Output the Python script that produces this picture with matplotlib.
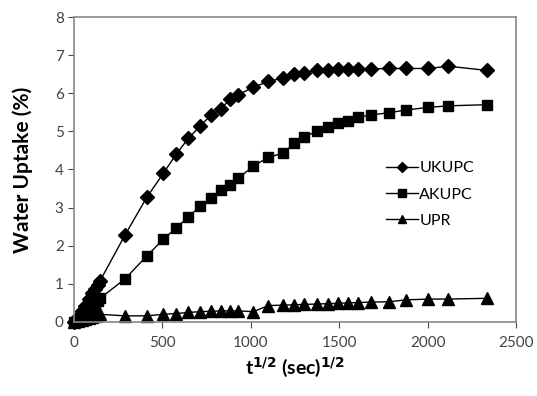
import matplotlib
matplotlib.use("Agg")
import matplotlib.pyplot as plt

# sqrt(time) values, shared by the three series
SQRT_T = [0, 24, 42, 60, 85, 104, 120, 134, 147,
          288, 411, 505, 577, 647, 713, 775, 831, 882, 929,
          1014, 1099, 1184, 1245, 1301, 1373, 1435, 1495, 1552, 1608,
          1678, 1783, 1878, 2004, 2117, 2334]

UKUPC = [0, 0.12, 0.28, 0.42, 0.6, 0.75, 0.87, 0.98, 1.08,
         2.28, 3.27, 3.9, 4.4, 4.82, 5.14, 5.43, 5.6, 5.84, 5.96,
         6.16, 6.31, 6.4, 6.5, 6.54, 6.6, 6.61, 6.63, 6.64, 6.64,
         6.64, 6.65, 6.65, 6.65, 6.71, 6.6]

AKUPC = [0, 0.05, 0.12, 0.2, 0.3, 0.4, 0.48, 0.55, 0.62,
         1.13, 1.73, 2.17, 2.46, 2.76, 3.03, 3.25, 3.46, 3.6, 3.77,
         4.09, 4.32, 4.43, 4.69, 4.86, 5.0, 5.11, 5.21, 5.28, 5.37,
         5.43, 5.49, 5.56, 5.63, 5.67, 5.7]

UPR = [0, 0.02, 0.04, 0.07, 0.1, 0.13, 0.16, 0.18, 0.2,
       0.16, 0.16, 0.2, 0.22, 0.25, 0.27, 0.28, 0.29, 0.29, 0.29,
       0.27, 0.43, 0.44, 0.45, 0.46, 0.47, 0.48, 0.49, 0.5, 0.51,
       0.52, 0.53, 0.58, 0.6, 0.6, 0.62]

plt.rcParams["font.family"] = ["Lato", "DejaVu Sans"]

fig = plt.figure(figsize=(5.37, 3.96), dpi=100)
ax = fig.add_axes([0.138, 0.187, 0.823, 0.770])

ax.plot(SQRT_T, UKUPC, color="black", lw=1, marker="D", ms=7, label="UKUPC", clip_on=False)
ax.plot(SQRT_T, AKUPC, color="black", lw=1, marker="s", ms=7.5, label="AKUPC", clip_on=False)
ax.plot(SQRT_T, UPR, color="black", lw=1, marker="^", ms=8.5, label="UPR", clip_on=False)

ax.set_xlim(0, 2500)
ax.set_ylim(0, 8)
ax.set_xticks(range(0, 2501, 500))
ax.set_yticks(range(0, 9))
ax.tick_params(labelsize=11, colors="#444444", length=4, width=0.8, direction="out")
ax.tick_params(axis="x", pad=6)
for s in ax.spines.values():
    s.set_color("#888888")
    s.set_linewidth(1.2)

ax.set_xlabel(r"t$^{\mathbf{1/2}}$ (sec)$^{\mathbf{1/2}}$", fontsize=14, fontweight="bold", labelpad=4)
ax.set_ylabel("Water Uptake (%)", fontsize=15, fontweight="bold", labelpad=16)

ax.legend(loc="center left", bbox_to_anchor=(0.705, 0.418), frameon=False, fontsize=11.5,
          borderpad=0, borderaxespad=0, handlelength=2.0, handletextpad=0.1,
          labelspacing=0.75, markerscale=0.75)

fig.savefig("out.png", dpi=100)
